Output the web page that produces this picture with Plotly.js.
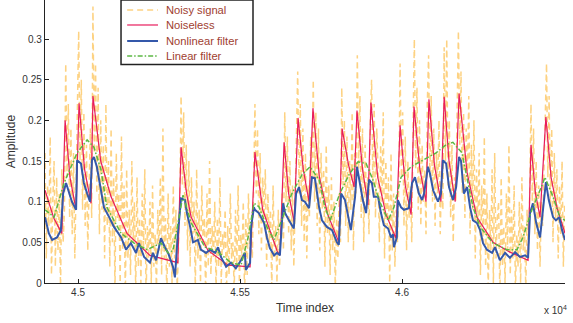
<!DOCTYPE html>
<html>
<head>
<meta charset="utf-8">
<script src="https://cdn.plot.ly/plotly-3.0.1.min.js"></script>
<style>html,body{margin:0;padding:0;background:#fff;}#chart{width:573px;height:323px;}</style>
</head>
<body>
<div id="chart"></div>
<script>
// ---------- data ----------
const seriesNames = ["Noisy signal", "Noiseless", "Nonlinear filter", "Linear filter"];

// Noisy signal: one sample every 4 time units starting at 44898
const noisyStart = 44898;
const noisyStep = 4;
const noisy = [
  0.16, 0.03, 0.12, 0.07, 0.18, 0.01, 0.10, 0.15, 0.02, 0.13,
  0.04, 0.11, -0.01, 0.14, 0.05, 0.09, 0.27, 0.13, 0.22, 0.08,
  0.19, 0.06, 0.16, 0.03, 0.12, 0.20, 0.31, 0.15, 0.25, 0.09,
  0.21, 0.07, 0.17, 0.04, 0.14, 0.19, 0.08, 0.34, 0.16, 0.27,
  0.11, 0.24, 0.06, 0.20, 0.09, 0.17, 0.03, 0.22, 0.07, 0.15,
  0.02, 0.19, 0.05, 0.13, -0.01, 0.16, 0.08, 0.11, 0.00, 0.18,
  0.04, 0.12, -0.02, 0.14, 0.03, 0.09, 0.01, 0.15, 0.05, 0.10,
  -0.01, 0.13, 0.02, 0.08, 0.00, 0.11, 0.04, 0.14, -0.02, 0.07,
  0.03, 0.10, 0.00, 0.12, 0.02, 0.06, -0.01, 0.09, 0.04, 0.13,
  0.01, 0.19, 0.03, 0.08, -0.02, 0.11, 0.02, 0.07, 0.00, 0.12,
  0.03, 0.09, -0.01, 0.06, 0.10, 0.23, 0.12, 0.21, 0.07, 0.17,
  0.04, 0.15, 0.02, 0.13, 0.06, 0.10, -0.01, 0.14, 0.03, 0.09,
  0.00, 0.12, 0.05, 0.08, -0.02, 0.11, 0.02, 0.15, 0.01, 0.07,
  0.03, 0.10, -0.01, 0.08, 0.02, 0.13, 0.00, 0.06, 0.04, 0.09,
  -0.02, 0.07, 0.01, 0.11, 0.03, 0.05, -0.01, 0.09, 0.02, 0.12,
  0.00, 0.06, 0.03, 0.10, -0.02, 0.08, 0.01, 0.11, 0.04, 0.07,
  0.03, 0.12, 0.22, 0.11, 0.19, 0.06, 0.16, 0.04, 0.13, 0.08,
  0.14, 0.02, 0.11, 0.05, 0.09, -0.01, 0.12, 0.03, 0.07, 0.00,
  0.09, 0.02, 0.06, 0.11, 0.04, 0.21, 0.10, 0.18, 0.06, 0.15,
  0.04, 0.12, 0.02, 0.09, 0.16, 0.26, 0.11, 0.22, 0.07, 0.19,
  0.05, 0.16, 0.03, 0.12, 0.08, 0.18, 0.13, 0.25, 0.10, 0.21,
  0.07, 0.19, 0.04, 0.16, 0.09, 0.14, 0.02, 0.17, 0.06, 0.12,
  0.01, 0.13, 0.04, 0.10, -0.01, 0.08, 0.03, 0.11, 0.05, 0.24,
  0.12, 0.20, 0.07, 0.18, 0.05, 0.15, 0.09, 0.21, 0.04, 0.16,
  0.11, 0.28, 0.14, 0.23, 0.08, 0.19, 0.05, 0.17, 0.10, 0.13,
  0.06, 0.20, 0.25, 0.12, 0.22, 0.08, 0.19, 0.14, 0.05, 0.17,
  0.10, 0.21, 0.03, 0.15, 0.07, 0.13, 0.00, 0.16, 0.04, 0.11,
  0.02, 0.09, 0.05, 0.12, 0.27, 0.13, 0.21, 0.07, 0.18, 0.04,
  0.15, 0.08, 0.12, 0.05, 0.19, 0.30, 0.14, 0.24, 0.09, 0.20,
  0.07, 0.17, 0.10, 0.14, 0.06, 0.22, 0.28, 0.13, 0.23, 0.10,
  0.19, 0.07, 0.16, 0.11, 0.20, 0.06, 0.14, 0.09, 0.29, 0.15,
  0.30, 0.12, 0.20, 0.08, 0.17, 0.05, 0.13, 0.10, 0.21, 0.31,
  0.17, 0.26, 0.11, 0.21, 0.08, 0.19, 0.13, 0.23, 0.06, 0.17,
  0.09, 0.20, 0.03, 0.14, 0.07, 0.16, 0.01, 0.12, 0.05, 0.18,
  0.02, 0.11, -0.01, 0.09, 0.04, 0.14, 0.00, 0.16, 0.03, 0.08,
  0.10, -0.02, 0.13, 0.02, 0.07, 0.00, 0.11, 0.04, 0.17, 0.01,
  0.09, 0.03, 0.12, -0.01, 0.06, 0.02, 0.10, 0.00, 0.13, 0.04,
  0.07, -0.01, 0.09, 0.03, 0.11, 0.22, 0.10, 0.19, 0.06, 0.15,
  0.04, 0.12, 0.02, 0.10, 0.07, 0.14, 0.20, 0.27, 0.13, 0.23,
  0.09, 0.19, 0.05, 0.16, 0.08, 0.14, 0.03, 0.12, 0.06, 0.15,
  0.02, 0.10
];

// Noiseless signal
const cleanT = [44898, 44925, 44950, 44960, 44975, 44994, 45003, 45020, 45040, 45046,
  45070, 45102, 45151, 45222, 45308, 45318, 45335, 45349, 45401, 45463,
  45531, 45546, 45570, 45614, 45623, 45636, 45650, 45667, 45679, 45695,
  45713, 45725, 45745, 45770, 45805, 45815, 45835, 45852, 45861, 45878,
  45895, 45904, 45925, 45950, 45981, 45994, 46010, 46028, 46037, 46055,
  46074, 46083, 46100, 46120, 46130, 46145, 46164, 46176, 46201, 46231,
  46281, 46333, 46389, 46398, 46412, 46426, 46444, 46460, 46478, 46503];
const cleanY = [0.114, 0.080, 0.061, 0.200, 0.130, 0.090, 0.221, 0.140, 0.098, 0.230,
  0.150, 0.106, 0.061, 0.034, 0.025, 0.167, 0.110, 0.081, 0.040, 0.022,
  0.020, 0.161, 0.090, 0.040, 0.034, 0.173, 0.110, 0.075, 0.203, 0.140,
  0.100, 0.215, 0.130, 0.085, 0.050, 0.190, 0.145, 0.118, 0.212, 0.140,
  0.096, 0.222, 0.130, 0.085, 0.055, 0.194, 0.120, 0.084, 0.217, 0.140,
  0.100, 0.226, 0.145, 0.100, 0.229, 0.150, 0.100, 0.233, 0.135, 0.081,
  0.050, 0.038, 0.028, 0.170, 0.110, 0.081, 0.204, 0.130, 0.093, 0.061];

// Nonlinear filter output
const nonlinT = [44898, 44910, 44920, 44935, 44947, 44954, 44963, 44972, 44981, 44994,
  44997, 45009, 45018, 45028, 45037, 45043, 45049, 45058, 45071, 45080,
  45096, 45111, 45133, 45148, 45163, 45179, 45188, 45204, 45222, 45231,
  45241, 45256, 45268, 45278, 45293, 45299, 45308, 45318, 45330, 45336,
  45346, 45355, 45370, 45379, 45395, 45407, 45423, 45432, 45441, 45457,
  45472, 45487, 45503, 45515, 45518, 45531, 45534, 45543, 45546, 45558,
  45574, 45583, 45592, 45605, 45614, 45623, 45633, 45639, 45651, 45660,
  45666, 45673, 45682, 45691, 45700, 45713, 45722, 45731, 45744, 45753,
  45768, 45784, 45799, 45805, 45812, 45824, 45836, 45842, 45855, 45861,
  45879, 45889, 45898, 45907, 45913, 45926, 45935, 45944, 45957, 45966,
  45972, 45975, 45984, 45987, 45997, 46006, 46021, 46031, 46040, 46052,
  46062, 46068, 46080, 46086, 46096, 46111, 46120, 46126, 46136, 46145,
  46157, 46167, 46176, 46182, 46191, 46201, 46210, 46219, 46231, 46241,
  46250, 46262, 46278, 46287, 46302, 46318, 46333, 46349, 46364, 46380,
  46389, 46395, 46404, 46414, 46426, 46435, 46444, 46453, 46466, 46475,
  46485, 46494, 46503];
const nonlinY = [0.081, 0.061, 0.053, 0.056, 0.065, 0.110, 0.123, 0.110, 0.100, 0.090,
  0.151, 0.147, 0.123, 0.110, 0.100, 0.151, 0.155, 0.143, 0.114, 0.093,
  0.081, 0.069, 0.056, 0.041, 0.049, 0.037, 0.049, 0.032, 0.025, 0.037,
  0.028, 0.055, 0.044, 0.037, 0.020, 0.007, 0.060, 0.104, 0.102, 0.086,
  0.069, 0.050, 0.053, 0.041, 0.037, 0.041, 0.037, 0.044, 0.032, 0.020,
  0.025, 0.018, 0.028, 0.037, 0.016, 0.025, 0.069, 0.093, 0.090, 0.086,
  0.074, 0.056, 0.043, 0.034, 0.037, 0.034, 0.098, 0.086, 0.077, 0.071,
  0.067, 0.110, 0.118, 0.102, 0.100, 0.092, 0.130, 0.129, 0.093, 0.077,
  0.069, 0.065, 0.050, 0.047, 0.110, 0.102, 0.074, 0.065, 0.106, 0.143,
  0.102, 0.086, 0.127, 0.123, 0.106, 0.106, 0.086, 0.071, 0.067, 0.056,
  0.060, 0.044, 0.056, 0.102, 0.093, 0.090, 0.092, 0.123, 0.130, 0.110,
  0.102, 0.110, 0.143, 0.135, 0.114, 0.100, 0.110, 0.151, 0.147, 0.118,
  0.102, 0.118, 0.155, 0.150, 0.110, 0.118, 0.093, 0.077, 0.074, 0.065,
  0.049, 0.041, 0.037, 0.044, 0.028, 0.037, 0.031, 0.038, 0.032, 0.034,
  0.031, 0.086, 0.098, 0.074, 0.056, 0.093, 0.124, 0.102, 0.081, 0.077,
  0.081, 0.065, 0.053];

// Linear filter output
const linT = [44898, 44926, 44957, 44997, 45028, 45049, 45071, 45089, 45133, 45173,
  45213, 45256, 45278, 45293, 45324, 45349, 45392, 45426, 45472, 45503,
  45525, 45543, 45558, 45583, 45605, 45629, 45660, 45691, 45716, 45744,
  45762, 45778, 45808, 45836, 45864, 45889, 45910, 45929, 45957, 45975,
  45997, 46028, 46065, 46105, 46136, 46157, 46185, 46201, 46219, 46241,
  46281, 46324, 46355, 46373, 46401, 46432, 46441, 46466, 46487, 46503];
const linY = [0.090, 0.081, 0.123, 0.160, 0.176, 0.167, 0.139, 0.093, 0.061, 0.049,
  0.041, 0.049, 0.037, 0.040, 0.108, 0.074, 0.044, 0.040, 0.025, 0.022,
  0.056, 0.098, 0.094, 0.069, 0.053, 0.077, 0.110, 0.133, 0.143, 0.127,
  0.093, 0.077, 0.110, 0.133, 0.149, 0.147, 0.127, 0.102, 0.077, 0.093,
  0.130, 0.143, 0.151, 0.160, 0.170, 0.173, 0.160, 0.127, 0.093, 0.069,
  0.049, 0.041, 0.041, 0.056, 0.090, 0.120, 0.130, 0.106, 0.081, 0.077];

// axis ticks
const xTickVals = [45000, 45500, 46000, 46500];
const xTickText = ["4.5", "4.55", "4.6", "4.65"];
const yTickVals = [0, 0.05, 0.1, 0.15, 0.2, 0.25, 0.3];
const yTickText = ["0", "0.05", "0.1", "0.15", "0.2", "0.25", "0.3"];

// ---------- styles ----------
const cNoisy = "rgb(253,210,130)";
const cClean = "rgb(232,28,92)";
const cNonlin = "rgb(52,88,170)";
const cLin = "rgb(92,184,68)";
const dNoisy = "6px,4px";
const dLin = "5px,2px,1.5px,2px";

const traces = [
  {type: "scatter", mode: "lines", name: seriesNames[0], x0: noisyStart, dx: noisyStep, y: noisy,
   line: {color: cNoisy, width: 1.5, dash: dNoisy}, showlegend: false, hoverinfo: "skip"},
  {type: "scatter", mode: "lines", name: seriesNames[1], x: cleanT, y: cleanY,
   line: {color: cClean, width: 1.2}, showlegend: false},
  {type: "scatter", mode: "lines", name: seriesNames[2], x: nonlinT, y: nonlinY,
   line: {color: cNonlin, width: 2}, showlegend: false},
  {type: "scatter", mode: "lines", name: seriesNames[3], x: linT, y: linY,
   line: {color: cLin, width: 1.5, dash: dLin}, showlegend: false}
];

// custom legend (box, samples, labels) in paper coords
const legX0 = 0.1462, legX1 = 0.40, legY0 = 0.772, legY1 = 1.0;
const legRows = [0.9647, 0.9117, 0.8552, 0.8022];
const legColors = [cNoisy, cClean, cNonlin, cLin];
const legDash = [dNoisy, "solid", "solid", dLin];
const legWidth = [1.6, 1.2, 2, 1.5];
const shapes = [{type: "rect", xref: "paper", yref: "paper", x0: legX0, x1: legX1, y0: legY0, y1: legY1,
  line: {color: "#222", width: 1.5}, fillcolor: "#fff", layer: "above"}];
const annotations = [];
legRows.forEach((yy, i) => {
  shapes.push({type: "line", xref: "paper", yref: "paper", x0: 0.158, x1: 0.2173, y0: yy, y1: yy,
    line: {color: legColors[i], width: legWidth[i], dash: legDash[i]}, layer: "above"});
  annotations.push({xref: "paper", yref: "paper", x: 0.2288, y: yy, xanchor: "left", yanchor: "middle",
    text: seriesNames[i], showarrow: false, font: {size: 11.2, color: "rgb(160,62,48)"}});
});
annotations.push({xref: "paper", yref: "paper", x: 0.956, y: -0.095, xanchor: "left", yanchor: "middle",
  text: "x 10<sup>4</sup>", showarrow: false, font: {size: 10, color: "#333"}});

const layout = {
  width: 573, height: 323,
  margin: {l: 45, r: 8, t: 0, b: 40},
  paper_bgcolor: "#fff", plot_bgcolor: "#fff",
  font: {family: "Liberation Sans, Arial, sans-serif", color: "#333"},
  showlegend: false,
  xaxis: {range: [44898, 46503], tickvals: xTickVals, ticktext: xTickText,
    ticks: "inside", ticklen: 4, tickcolor: "#222", showline: true, linecolor: "#222", linewidth: 1.2,
    showgrid: false, zeroline: false, tickfont: {size: 10, color: "#333"},
    title: {text: "Time index", font: {size: 12, color: "#333"}, standoff: 6}},
  yaxis: {range: [0, 0.348], tickvals: yTickVals, ticktext: yTickText,
    ticks: "inside", ticklen: 4, tickcolor: "#222", showline: true, linecolor: "#222", linewidth: 1.2,
    showgrid: false, zeroline: false, tickfont: {size: 10, color: "#333"},
    title: {text: "Amplitude", font: {size: 12, color: "#333"}, standoff: 4}},
  shapes: shapes,
  annotations: annotations
};

Plotly.newPlot("chart", traces, layout, {staticPlot: true, displayModeBar: false});
</script>
</body>
</html>
